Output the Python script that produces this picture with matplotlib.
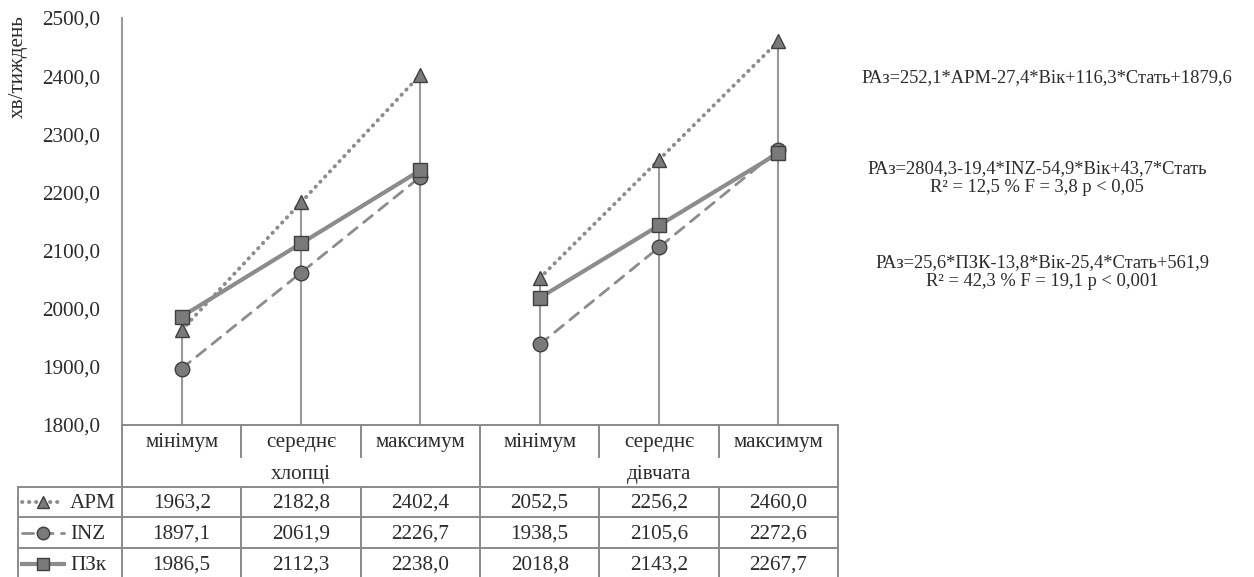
import numpy as np
import matplotlib.pyplot as plt

# Дані: тижнева рухова активність (хв/тиждень)
categories = ['мінімум', 'середнє', 'максимум', 'мінімум', 'середнє', 'максимум']
groups = ['хлопці', 'дівчата']
series_names = ['APM', 'INZ', 'ПЗк']
apm = [1963.2, 2182.8, 2402.4, 2052.5, 2256.2, 2460.0]
inz = [1897.1, 2061.9, 2226.7, 1938.5, 2105.6, 2272.6]
pzk = [1986.5, 2112.3, 2238.0, 2018.8, 2143.2, 2267.7]

equations = [
    'РАз=252,1*АРМ-27,4*Вік+116,3*Стать+1879,6',
    'РАз=2804,3-19,4*INZ-54,9*Вік+43,7*Стать\nR² = 12,5 % F = 3,8 p < 0,05',
    'РАз=25,6*ПЗК-13,8*Вік-25,4*Стать+561,9\nR² = 42,3 % F = 19,1 p < 0,001',
]

plt.rcParams['font.family'] = ['Liberation Serif', 'DejaVu Serif']
txt_col = '#2b2b2b'
grid_col = '#8a8a8a'
line_col = '#8c8c8c'
mk_face = '#7a7a7a'
mk_edge = '#3f3f3f'
fs = 15.2

W, H = 1254, 577
fig = plt.figure(figsize=(W / 100, H / 100), dpi=100)

# основна область графіка
ax = fig.add_axes([122 / W, 1 - 425 / H, (838 - 122) / W, (425 - 18) / H])
x = np.arange(len(categories))
ax.set_xlim(-0.5, 5.5)
ax.set_ylim(1800, 2500)

# вертикальні лінії від осі до найбільшого значення
top = np.max([apm, inz, pzk], axis=0)
ax.vlines(x, 1800, top, color='#9a9a9a', lw=1.5, zorder=1)

styles = [
    dict(ls=(0, (0.1, 1.7)), lw=2.8, marker='^'),
    dict(ls=(0, (4, 3)), lw=2.0, marker='o'),
    dict(ls='-', lw=3.0, marker='s'),
]
for vals, st in zip([apm, inz, pzk], styles):
    for g in range(2):
        sl = slice(3 * g, 3 * g + 3)
        ax.plot(x[sl], np.array(vals)[sl], color=line_col, ls=st['ls'], lw=st['lw'],
                dash_capstyle='round', marker=st['marker'], ms=10.5, mfc=mk_face,
                mec=mk_edge, mew=1.0, zorder=3)

ax.set_yticks(np.arange(1800, 2501, 100))
ax.set_yticklabels([f'{v:.1f}'.replace('.', ',') for v in np.arange(1800, 2501, 100)],
                   fontsize=fs, color=txt_col)
ax.tick_params(axis='y', length=0, pad=16)
ax.set_xticks([])
for s in ['top', 'right', 'bottom']:
    ax.spines[s].set_visible(False)
ax.spines['left'].set_color('#9a9a9a')
ax.spines['left'].set_linewidth(1.5)

fig.text(18 / W, 1 - 67 / H, 'хв/тиждень', rotation=90, ha='center', va='center',
         fontsize=fs, color=txt_col)

# таблиця даних під графіком
left_px = 18
unit = (838 - 122) / 6
xl = -0.5 - (122 - left_px) / unit
tax = fig.add_axes([left_px / W, 1 - 579 / H, (838 - left_px) / W, 154 / H])
tax.set_xlim(xl, 5.5)
tax.set_ylim(5, 0)
tax.axis('off')

kw = dict(color=grid_col, lw=1.4, clip_on=False)
tax.plot([-0.5, 5.5], [0, 0], **kw)
tax.plot([-0.5, -0.5], [0, 5], **kw)
tax.plot([2.5, 2.5], [0, 5], **kw)
tax.plot([5.5, 5.5], [0, 5], **kw)
tax.plot([xl, xl], [2, 5], **kw)
for yy in [2, 3, 4, 5]:
    tax.plot([xl, 5.5], [yy, yy], **kw)
for xx in [0.5, 1.5, 3.5, 4.5]:
    tax.plot([xx, xx], [0, 1.04], **kw)
    tax.plot([xx, xx], [2, 5], **kw)

for i, c in enumerate(categories):
    tax.text(i, 0.57, c, ha='center', va='center', fontsize=fs, color=txt_col)
for g, name in enumerate(groups):
    tax.text(3 * g + 1, 1.6, name, ha='center', va='center', fontsize=fs, color=txt_col)

for r, (vals, name, st) in enumerate(zip([apm, inz, pzk], series_names, styles)):
    yy = 2.5 + r
    for i, v in enumerate(vals):
        tax.text(i, yy + 0.05, f'{v:.1f}'.replace('.', ','), ha='center', va='center',
                 fontsize=fs, color=txt_col)
    # зразок лінії в легенді
    x0 = xl + 4 / unit
    x1 = xl + 46 / unit
    tax.plot([x0, x1], [yy, yy], color=line_col, ls=st['ls'], lw=st['lw'],
             dash_capstyle='round', clip_on=False)
    tax.plot([(x0 + x1) / 2], [yy], marker=st['marker'], ms=9, mfc=mk_face, mec=mk_edge,
             mew=1.0, ls='none', clip_on=False)
    tax.text(xl + 52 / unit, yy + 0.05, name, ha='left', va='center', fontsize=fs, color=txt_col)

# рівняння регресії праворуч
eq_pos = [(1047, 78), (1037, 178), (1042, 272)]
for (px, py), t in zip(eq_pos, equations):
    fig.text(px / W, 1 - py / H, t, ha='center', va='center', fontsize=13.3,
             color=txt_col, linespacing=1.1)

fig.savefig('out.png', dpi=100)
